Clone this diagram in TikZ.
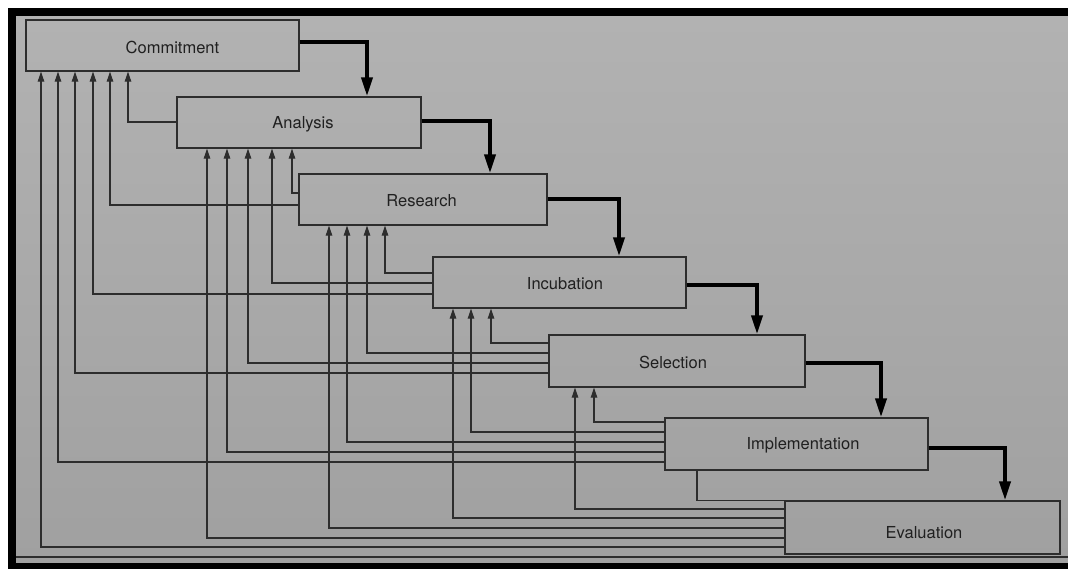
\documentclass[tikz,border=0pt]{standalone}
\usepackage{fontspec}
\setmainfont{TeX Gyre Heros}
\usetikzlibrary{arrows.meta,calc}
\definecolor{bgtop}{RGB}{178,178,178}
\definecolor{bgbot}{RGB}{160,160,160}
\definecolor{ink}{RGB}{45,45,45}
\definecolor{txt}{RGB}{32,32,32}
\begin{document}
\begin{tikzpicture}[x=1pt,y=-1pt,
  box/.style={draw=ink, line width=1.3pt, inner sep=0pt},
  lbl/.style={text=txt, font=\fontsize{16.5}{18}\selectfont, inner sep=0pt},
  flow/.style={draw=black, line width=3.8pt, -{Triangle[length=19pt,width=11pt]}},
  fb/.style={draw=ink, line width=1.1pt, -{Triangle[length=10pt,width=6.5pt]}},
  fbn/.style={draw=ink, line width=1.1pt}]
\useasboundingbox (0,0) rectangle (1068,569);
% frame and page
\fill[white] (0,0) rectangle (1068,569);
\fill[bgbot] (16,16) rectangle (1068,563);
\shade[top color=bgtop, bottom color=bgbot] (16,16) rectangle (1068,563);
\fill[black] (8,8) rectangle (1068,16);
\fill[black] (8,8) rectangle (16,569);
\fill[black] (8,563) rectangle (1068,569);
% boxes
\node[box, minimum width=273pt, minimum height=51pt] (C) at (162.5,45.5) {};
\node[box, minimum width=244pt, minimum height=51pt] (A) at (299,122.5) {};
\node[box, minimum width=248pt, minimum height=51pt] (R) at (423,199.5) {};
\node[box, minimum width=253pt, minimum height=51pt] (I) at (559.5,282.5) {};
\node[box, minimum width=256pt, minimum height=52pt] (S) at (677,361) {};
\node[box, minimum width=263pt, minimum height=52pt] (M) at (796.5,444) {};
\node[box, minimum width=275pt, minimum height=53pt] (E) at (922.5,527.5) {};
% labels
\node[lbl] (Ct) at ($(C.center)+(10,2)$) {Commitment};
\node[lbl] (At) at ($(A.center)+(4,2)$) {Analysis};
\node[lbl] (Rt) at ($(R.center)+(-1.5,1)$) {Research};
\node[lbl] (It) at ($(I.center)+(5.5,1)$) {Incubation};
\node[lbl] (St) at ($(S.center)+(-4,1)$) {Selection};
\node[lbl] (Mt) at ($(M.center)+(6.5,1)$) {Implementation};
\node[lbl] (Et) at ($(E.center)+(1.5,5)$) {Evaluation};
% main flow
\draw[flow] (C.east |- 0,42) -| (A.north -| 367,0);
\draw[flow] (A.east |- 0,121) -| (R.north -| 490,0);
\draw[flow] (R.east |- 0,199) -| (I.north -| 619,0);
\draw[flow] (I.east |- 0,285) -| (S.north -| 757,0);
\draw[flow] (S.east |- 0,363) -| (M.north -| 881,0);
\draw[flow] (M.east |- 0,448) -| (E.north -| 1005,0);
% feedback from Analysis
\draw[fb] (A.west |- 0,122) -| (C.south -| 128,0);
% from Research
\draw[fb] (R.west |- 0,193) -| (A.south -| 292,0);
\draw[fb] (R.west |- 0,205) -| (C.south -| 110,0);
% from Incubation
\draw[fb] (I.west |- 0,273) -| (R.south -| 385,0);
\draw[fb] (I.west |- 0,283) -| (A.south -| 272,0);
\draw[fb] (I.west |- 0,294) -| (C.south -| 93,0);
% from Selection
\draw[fb] (S.west |- 0,343) -| (I.south -| 491,0);
\draw[fb] (S.west |- 0,353) -| (R.south -| 367,0);
\draw[fb] (S.west |- 0,363) -| (A.south -| 248,0);
\draw[fb] (S.west |- 0,373) -| (C.south -| 75,0);
% from Implementation
\draw[fb] (M.west |- 0,422) -| (S.south -| 594,0);
\draw[fb] (M.west |- 0,432) -| (I.south -| 471,0);
\draw[fb] (M.west |- 0,442) -| (R.south -| 347,0);
\draw[fb] (M.west |- 0,452) -| (A.south -| 227,0);
\draw[fb] (M.west |- 0,462) -| (C.south -| 58,0);
% from Evaluation
\draw[fbn] (E.north west) -| (M.south -| 697,0);
\draw[fb] (E.west |- 0,509) -| (S.south -| 575,0);
\draw[fb] (E.west |- 0,518) -| (I.south -| 453,0);
\draw[fb] (E.west |- 0,528) -| (R.south -| 329,0);
\draw[fb] (E.west |- 0,538) -| (A.south -| 207,0);
\draw[fb] (E.west |- 0,547) -| (C.south -| 41,0);
% bottom rule
\coordinate (BL) at (16,557);
\coordinate (BR) at (1068,557);
\draw[fbn] (BL) -- (BR);
\end{tikzpicture}
\end{document}
